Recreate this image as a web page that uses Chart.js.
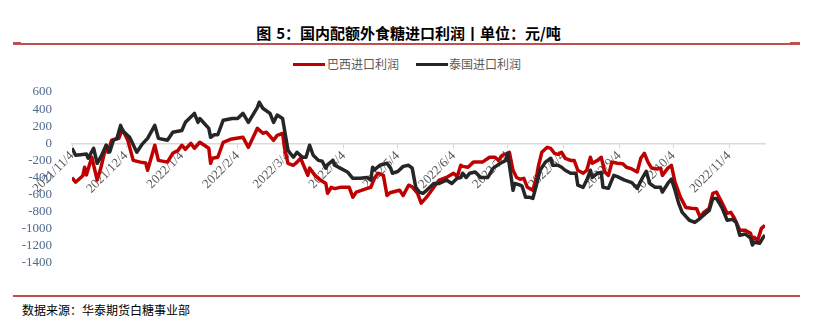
<!DOCTYPE html>
<html><head><meta charset="utf-8">
<script src="https://cdn.jsdelivr.net/npm/chart.js@4.4.0/dist/chart.umd.min.js"></script>
<style>
body{margin:0;width:813px;height:330px;background:#fff;position:relative;overflow:hidden;font-family:"Noto Sans CJK SC","Noto Sans",sans-serif;}
#title{position:absolute;left:2px;width:813px;top:23px;text-align:center;font-weight:bold;font-size:15px;color:#000;line-height:20px;}
.rl{position:absolute;background:#c0504d;}
.leg{position:absolute;top:57px;font-size:12px;color:#595959;line-height:14px;}
.sw{position:absolute;height:3px;top:63px;}
#src{position:absolute;left:22px;top:302px;font-size:12px;color:#000;line-height:16px;}
#wrap{position:absolute;left:0;top:0;width:813px;height:330px;}
</style></head>
<body>
<div id="title">图<span style="margin-left:5px">5</span>：国内配额外食糖进口利润丨单位：元/吨</div>
<div class="rl" style="left:13px;top:43px;width:787px;height:1.5px"></div>
<div class="rl" style="left:13px;top:42px;width:8px;height:3px"></div>
<div class="rl" style="left:790px;top:42px;width:10px;height:3px"></div>
<div class="sw" style="left:293px;width:32px;background:#c00000"></div>
<div class="leg" style="left:327px">巴西进口利润</div>
<div class="sw" style="left:416px;width:32px;background:#262626"></div>
<div class="leg" style="left:449px">泰国进口利润</div>
<div class="rl" style="left:13px;top:295px;width:787px;height:2px"></div>
<div id="src">数据来源：华泰期货白糖事业部</div>
<div id="wrap"><canvas id="c"></canvas></div>
<script>
// day offsets from 2021-11-04
const baseDate = [2021, 10, 4];
const monthTickDays = [0,30,61,92,120,151,181,212,242,273,304,334,365];
const yTicks = [600,400,200,0,-200,-400,-600,-800,-1000,-1200,-1400];

const brazilDays = [0,2,6,7,8,11,14,16,19,20,22,26,28,31,34,38,41,42,46,48,53,56,59,61,63,66,68,71,76,77,78,81,84,88,95,98,103,106,108,112,114,117,118,120,123,125,127,131,132,135,138,141,142,144,146,149,154,156,158,164,166,168,170,173,175,177,182,184,187,189,192,194,197,201,204,208,212,214,216,217,220,223,227,228,232,235,237,239,242,243,245,247,249,251,253,256,258,259,261,264,266,268,270,272,274,277,279,281,284,286,288,289,292,294,296,298,300,303,306,308,311,314,316,318,320,322,325,327,328,331,333,335,338,341,344,347,349,351,354,356,358,361,364,366,368,371,374,377,378,379,381,383,385];
const brazilValues = [-400,-455,-380,-280,-370,-163,-430,-290,-23,-105,35,58,165,35,-200,-220,-230,-315,-23,-200,-220,-117,-80,-23,-70,0,-58,12,-58,-234,-175,-163,12,47,70,-47,175,117,130,35,93,117,-47,-234,-257,-220,-175,-375,-290,-375,-430,-470,-585,-515,-530,-515,-515,-630,-570,-527,-515,-410,-350,-375,-610,-575,-550,-610,-490,-510,-585,-700,-630,-515,-430,-400,-350,-390,-257,-270,-280,-220,-220,-220,-163,-163,-200,-140,-117,-105,-315,-400,-420,-410,-515,-550,-400,-280,-105,-47,-60,-117,-130,-105,-175,-200,-200,-315,-350,-315,-163,-234,-200,-163,-335,-375,-220,-234,-240,-280,-300,-335,-175,-117,-220,-290,-300,-290,-375,-290,-257,-455,-630,-750,-760,-765,-865,-808,-760,-585,-570,-690,-820,-808,-877,-1017,-1017,-1053,-1135,-1100,-1135,-995,-960];

const thaiDays = [0,2,6,8,9,12,14,16,19,21,23,25,27,28,32,36,39,42,46,48,53,56,61,63,67,68,70,71,76,77,79,81,84,89,92,95,98,103,104,106,110,112,114,117,120,123,125,128,130,132,134,137,139,141,142,145,146,149,153,156,160,164,166,167,168,171,175,177,178,181,184,187,189,191,193,195,197,201,204,208,211,214,216,217,219,221,224,227,231,234,238,241,242,244,245,246,249,250,252,254,256,258,260,263,266,267,270,272,274,277,280,281,284,286,288,289,292,294,295,298,301,303,307,311,314,317,319,321,324,327,328,331,333,335,337,339,343,346,349,352,354,356,358,361,364,367,369,371,374,377,378,379,382,384,385];
const thaiValues = [-58,-140,-130,-125,-175,-58,-234,-160,-23,-100,35,58,210,150,70,-105,-10,58,210,58,35,130,150,245,327,350,245,290,175,70,100,100,270,290,290,350,245,420,480,410,350,245,330,290,-82,-163,-105,-163,-163,-23,-140,-200,-210,-290,-250,-200,-257,-290,-335,-410,-410,-400,-430,-280,-310,-257,-234,-290,-350,-330,-270,-257,-290,-515,-570,-585,-550,-470,-470,-430,-470,-410,-400,-350,-400,-350,-335,-400,-400,-290,-234,-200,-117,-400,-550,-470,-490,-500,-630,-630,-645,-490,-315,-220,-175,-257,-257,-280,-315,-350,-350,-490,-515,-430,-315,-400,-350,-340,-515,-527,-375,-390,-430,-460,-527,-400,-327,-470,-515,-515,-570,-470,-420,-550,-700,-808,-900,-925,-877,-820,-785,-645,-645,-750,-900,-890,-925,-1075,-1060,-1110,-1190,-1158,-1170,-1100,-1075];

function dayLabel(d){
  const dt = new Date(Date.UTC(baseDate[0], baseDate[1], baseDate[2] + d));
  return dt.getUTCFullYear() + '/' + (dt.getUTCMonth()+1) + '/' + dt.getUTCDate();
}
const toPts = (xs, ys) => xs.map((x,i)=>({x:x, y:ys[i]}));

new Chart(document.getElementById('c'), {
  type: 'line',
  data: {
    datasets: [
      {label:'巴西进口利润', data: toPts(brazilDays, brazilValues), borderColor:'#c00000', borderWidth:3.5, pointRadius:0, tension:0, order:1, borderJoinStyle:'round'},
      {label:'泰国进口利润', data: toPts(thaiDays, thaiValues), borderColor:'#262626', borderWidth:3.5, pointRadius:0, tension:0, order:0, borderJoinStyle:'round'}
    ]
  },
  options: {
    responsive: true, maintainAspectRatio: false, animation: false,
    layout: {padding: {top: 92, bottom: 67, left: 0, right: 48}},
    plugins: {legend: {display:false}, tooltip: {enabled:false}},
    scales: {
      x: {
        type: 'linear', min: 0, max: 385, position: {y: 0},
        afterBuildTicks: s => { s.ticks = monthTickDays.map(v => ({value: v})); },
        afterFit: s => { s.height = 0; },
        grid: {display: true, drawOnChartArea: false, drawTicks: true, tickLength: 4, color: '#d9d9d9'},
        border: {display: true, color: '#d9d9d9', width: 1.5},
        ticks: {autoSkip: false, minRotation: 45, maxRotation: 45, padding: 1, color: '#595959',
          font: {family: '"Liberation Serif", serif', size: 13},
          callback: v => dayLabel(v)}
      },
      y: {
        min: -1400, max: 600,
        afterBuildTicks: s => { s.ticks = yTicks.map(v => ({value: v})); },
        afterFit: s => { s.width = 72; },
        grid: {display: false},
        border: {display: false},
        ticks: {autoSkip: false, color: '#50698c', padding: 12, font: {family: '"Liberation Serif", serif', size: 13},
          callback: v => String(v)}
      }
    }
  }
});
</script>
</body></html>
